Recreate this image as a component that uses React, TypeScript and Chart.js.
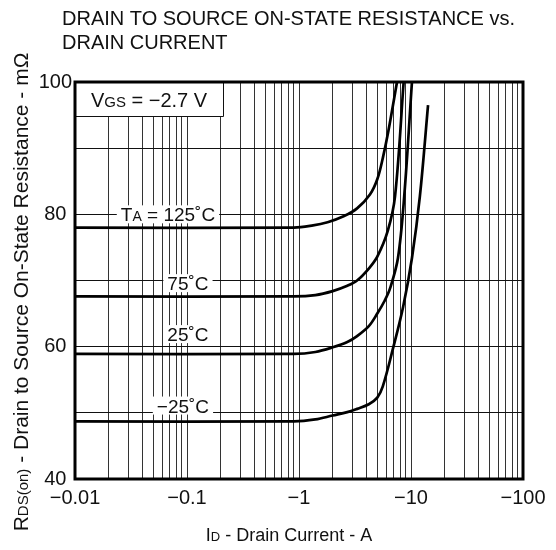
import React, { useEffect, useRef } from 'react';
import { Chart, registerables } from 'chart.js';

Chart.register(...registerables);

const FONT = '"Liberation Sans", Arial, Helvetica, sans-serif';

// ---- data ----
const titleLines = ['DRAIN TO SOURCE ON-STATE RESISTANCE vs.', 'DRAIN CURRENT'];
const xTickValues = [0.01, 0.1, 1, 10, 100];
const xTickLabels = ['−0.01', '−0.1', '−1', '−10', '−100'];
const yTickValues = [40, 60, 80, 100];
const seriesNames = ['125˚C', '75˚C', '25˚C', '−25˚C'];

const current125 = [0.01, 0.9, 1.3, 1.8, 2.5, 3.3, 4.3, 5.0, 5.6, 6.3, 7.5];
const rds125 = [78.0, 78.0, 78.3, 78.8, 79.7, 80.9, 83.0, 85.3, 88.5, 92.7, 100];

const current75 = [0.01, 0.9, 1.4, 2.0, 2.7, 3.3, 4.2, 5.0, 6.2, 7.2, 8.6];
const rds75 = [67.6, 67.6, 67.8, 68.4, 69.2, 70, 71.8, 73.6, 77.5, 82.7, 100];

const current25 = [0.01, 0.9, 1.4, 2.0, 2.7, 3.3, 4.2, 5.0, 5.8, 6.5, 7.65, 8.7, 10.2];
const rds25 = [58.9, 58.9, 59.2, 59.9, 60.7, 61.6, 63.1, 65, 66.9, 68.8, 73.4, 82.7, 100];

const currentM25 = [0.01, 0.9, 1.4, 2.0, 2.7, 3.3, 4.2, 5.0, 5.6, 6.9, 8.5, 10.2, 12.0, 14.2];
const rdsM25 = [48.7, 48.7, 49.0, 49.6, 50.1, 50.6, 51.3, 52.3, 54, 59.7, 66, 73.4, 82.7, 96.5];

// label anchor positions (data coordinates)
const labelX = [0.0676, 0.102, 0.102, 0.092];
const labelY = [80, 69.6, 61.9, 51.1];
const vgsText = ['V', 'GS', ' = −2.7 V'];
const vgsBoxRight = 0.21;
const vgsBoxBottom = 94.8;

// grid values for log axis (1..9 per decade)
const gridValues: number[] = [];
for (let e = -2; e < 2; e++) {
  for (let m = 1; m < 10; m++) gridValues.push(Number((m * Math.pow(10, e)).toPrecision(3)));
}
gridValues.push(100);

type Run = { t: string; s: number };

function runsWidth(ctx: CanvasRenderingContext2D, runs: Run[]) {
  let w = 0;
  for (const r of runs) {
    ctx.font = `${r.s}px ${FONT}`;
    w += ctx.measureText(r.t).width;
  }
  return w;
}

function drawRuns(ctx: CanvasRenderingContext2D, runs: Run[], x: number, y: number) {
  ctx.textAlign = 'left';
  ctx.textBaseline = 'alphabetic';
  for (const r of runs) {
    ctx.font = `${r.s}px ${FONT}`;
    ctx.fillText(r.t, x, y);
    x += ctx.measureText(r.t).width;
  }
}

const annotPlugin = {
  id: 'annot',
  beforeDatasetsDraw(chart: any) {
    const ctx: CanvasRenderingContext2D = chart.ctx;
    const xs = chart.scales.x;
    const ys = chart.scales.y;
    const area = chart.chartArea;
    ctx.save();
    // VGS box
    const bx1 = xs.getPixelForValue(vgsBoxRight);
    const by1 = ys.getPixelForValue(vgsBoxBottom);
    ctx.fillStyle = '#fff';
    ctx.fillRect(area.left, area.top, bx1 - area.left, by1 - area.top);
    ctx.strokeStyle = '#111';
    ctx.lineWidth = 1;
    ctx.beginPath();
    ctx.moveTo(area.left, Math.round(by1) + 0.5);
    ctx.lineTo(Math.round(bx1) + 0.5, Math.round(by1) + 0.5);
    ctx.lineTo(Math.round(bx1) + 0.5, area.top);
    ctx.stroke();
    const vRuns: Run[] = [
      { t: vgsText[0], s: 20 },
      { t: vgsText[1], s: 15 },
      { t: vgsText[2], s: 20 },
    ];
    const vw = runsWidth(ctx, vRuns);
    ctx.fillStyle = '#111';
    drawRuns(ctx, vRuns, (area.left + bx1) / 2 - vw / 2, (area.top + by1) / 2 + 8);

    // temperature labels
    seriesNames.forEach((name, i) => {
      const runs: Run[] = i === 0
        ? [{ t: 'T', s: 19 }, { t: 'A', s: 14 }, { t: ' = ' + name, s: 19 }]
        : [{ t: name, s: 19 }];
      const w = runsWidth(ctx, runs);
      const cx = xs.getPixelForValue(labelX[i]);
      const cy = ys.getPixelForValue(labelY[i]);
      ctx.fillStyle = '#fff';
      ctx.fillRect(cx - w / 2 - 4, cy - 9, w + 8, 18);
      ctx.fillStyle = '#111';
      drawRuns(ctx, runs, cx - w / 2, cy + 7);
    });
    ctx.restore();
  },
  afterDraw(chart: any) {
    const ctx: CanvasRenderingContext2D = chart.ctx;
    const area = chart.chartArea;
    ctx.save();
    // plot frame
    ctx.strokeStyle = '#000';
    ctx.lineWidth = 3;
    ctx.strokeRect(area.left, area.top, area.right - area.left, area.bottom - area.top);

    // title
    ctx.fillStyle = '#111';
    ctx.font = `20px ${FONT}`;
    ctx.textAlign = 'left';
    ctx.textBaseline = 'alphabetic';
    ctx.fillText(titleLines[0], 62, 25);
    ctx.fillText(titleLines[1], 62, 49);

    // x axis title
    const xRuns: Run[] = [
      { t: 'I', s: 18 },
      { t: 'D', s: 13 },
      { t: ' - Drain Current - A', s: 18 },
    ];
    const xw = runsWidth(ctx, xRuns);
    drawRuns(ctx, xRuns, 289 - xw / 2, 541);

    // y axis title
    const yRuns: Run[] = [
      { t: 'R', s: 21 },
      { t: 'DS(on)', s: 15 },
      { t: ' - Drain to Source On-State Resistance - mΩ', s: 21 },
    ];
    const yw = runsWidth(ctx, yRuns);
    ctx.translate(20, 292);
    ctx.rotate(-Math.PI / 2);
    drawRuns(ctx, yRuns, -yw / 2, 7.5);
    ctx.restore();
  },
};

function toPoints(xs: number[], ys: number[]) {
  return xs.map((x, i) => ({ x, y: ys[i] }));
}

export default function App() {
  const ref = useRef<HTMLCanvasElement>(null);

  useEffect(() => {
    if (!ref.current) return;
    Chart.defaults.font.family = FONT;
    Chart.defaults.font.size = 20;
    Chart.defaults.color = '#111';
    const series = [
      toPoints(current125, rds125),
      toPoints(current75, rds75),
      toPoints(current25, rds25),
      toPoints(currentM25, rdsM25),
    ];
    const chart = new Chart(ref.current, {
      type: 'line',
      data: {
        datasets: series.map((d, i) => ({
          label: seriesNames[i],
          data: d,
          borderColor: '#000',
          borderWidth: 2.7,
          pointRadius: 0,
          fill: false,
          tension: 0.35,
        })),
      },
      options: {
        animation: false,
        responsive: false,
        devicePixelRatio: 1,
        layout: { padding: { left: 0, right: 33, top: 82, bottom: 0 } },
        plugins: { legend: { display: false }, tooltip: { enabled: false }, title: { display: false } },
        scales: {
          x: {
            type: 'logarithmic',
            min: 0.01,
            max: 100,
            afterBuildTicks: (scale: any) => {
              scale.ticks = gridValues.map((v) => ({ value: v }));
            },
            afterFit: (scale: any) => {
              scale.height = 71;
            },
            ticks: {
              autoSkip: false,
              maxRotation: 0,
              minRotation: 0,
              padding: 7,
              color: '#111',
              font: { size: 20, family: FONT },
              callback: (value: any) => {
                const v = Number(value);
                const i = xTickValues.findIndex((t) => Math.abs(t - v) / t < 1e-6);
                return i >= 0 ? xTickLabels[i] : '';
              },
            },
            grid: { color: '#333', lineWidth: 1, drawTicks: false },
            border: { display: false },
          },
          y: {
            type: 'linear',
            min: 40,
            max: 100,
            afterFit: (scale: any) => {
              scale.width = 75;
            },
            ticks: {
              stepSize: 10,
              padding: 3,
              crossAlign: 'center',
              color: '#111',
              font: { size: 20, family: FONT },
              callback: (value: any) => (yTickValues.includes(Number(value)) ? String(value) : ''),
            },
            grid: { color: '#111', lineWidth: 1, drawTicks: false },
            border: { display: false },
          },
        },
      },
      plugins: [annotPlugin],
    } as any);
    return () => chart.destroy();
  }, []);

  return (
    <canvas
      ref={ref}
      width={556}
      height={550}
      style={{ position: 'fixed', left: 0, top: 0, width: 556, height: 550 }}
    />
  );
}
